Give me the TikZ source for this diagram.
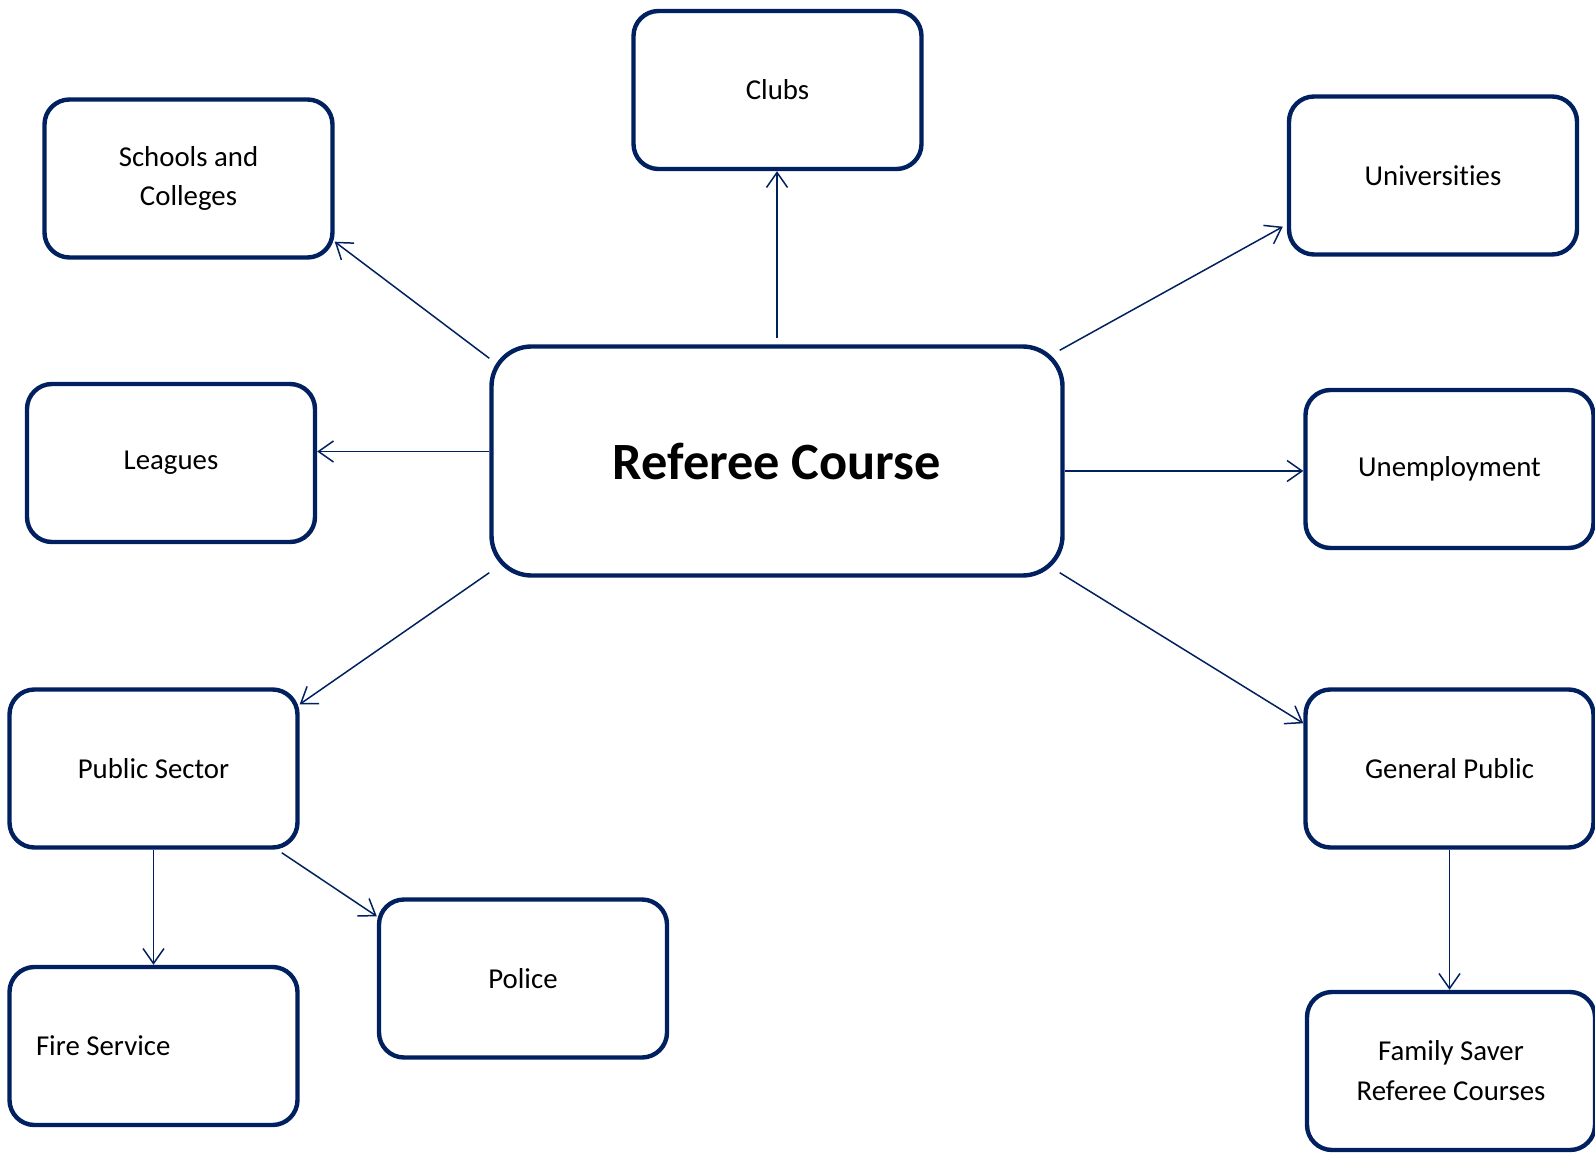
\documentclass[tikz,border=0pt]{standalone}
\usepackage{fontspec}
\setmainfont{Carlito}[Ligatures=NoCommon]
\usetikzlibrary{arrows.meta}
\definecolor{midnight}{RGB}{0, 32, 96}

\begin{document}
\begin{tikzpicture}[
        box/.style={draw=midnight, line width=2.5pt, rounded corners=0.5cm, fill=white,
                    minimum width=5.76cm, minimum height=3.16cm, align=center,
                    font=\fontsize{16.4}{22.7}\selectfont},
        hub/.style={box, rounded corners=0.8cm, minimum width=11.42cm, minimum height=4.58cm,
                    font=\fontsize{29.8}{36}\selectfont\bfseries},
        link/.style={draw=midnight, line width=0.85pt, -{Straight Barb[length=0.30cm, width=0.42cm]}}]
            % Frame to fix the page size
            \useasboundingbox (0.00, 0.00) rectangle (31.90, 23.08);
            % Centre
            \node[hub] (ref)     at (15.54, 13.86) {Referee Course};
            % Targets
            \node[box] (clubs)   at (15.55, 21.28) {Clubs};
            \node[box] (schools) at ( 3.77, 19.51) {Schools and\\Colleges};
            \node[box] (univ)    at (28.66, 19.57) {Universities};
            \node[box] (leagues) at ( 3.42, 13.82) {Leagues};
            \node[box] (unemp)   at (28.99, 13.70) {Unemployment};
            \node[box] (pubsec)  at ( 3.07,  7.71) {Public Sector};
            \node[box] (genpub)  at (28.99,  7.71) {General Public};
            \node[box] (fire)    at ( 3.07,  2.16) {\makebox[4.70cm][l]{Fire Service}};
            \node[box] (police)  at (10.46,  3.51) {Police};
            \node[box] (family)  at (29.02,  1.66) {Family Saver\\Referee Courses};
            % Connectors
            \draw[link] ([yshift=0.12cm]ref.north) -- (ref.north |- clubs.south);
            \draw[link] ([yshift=-0.28cm]ref.north west) -- ([yshift=0.36cm]schools.south east);
            \draw[link] ([yshift=0.19cm]ref.west) -- ([yshift=0.19cm]ref.west -| leagues.east);
            \draw[link] ([xshift=-0.10cm, yshift=-0.12cm]ref.north east) -- ([xshift=-0.08cm, yshift=0.60cm]univ.south west);
            \draw[link] ([yshift=-0.20cm]ref.east) -- ([yshift=-0.20cm]ref.east -| unemp.west);
            \draw[link] ([xshift=-0.10cm, yshift=0.10cm]ref.south east) -- ([yshift=-0.72cm]genpub.north west);
            \draw[link] ([yshift=0.10cm]ref.south west) -- ([yshift=-0.34cm]pubsec.north east);
            \draw[link] (pubsec.south) -- (pubsec.south |- fire.north);
            \draw[link] ([xshift=-0.36cm, yshift=-0.06cm]pubsec.south east) -- ([yshift=-0.38cm]police.north west);
            \draw[link] (genpub.south) -- (genpub.south |- family.north);
\end{tikzpicture}
\end{document}
